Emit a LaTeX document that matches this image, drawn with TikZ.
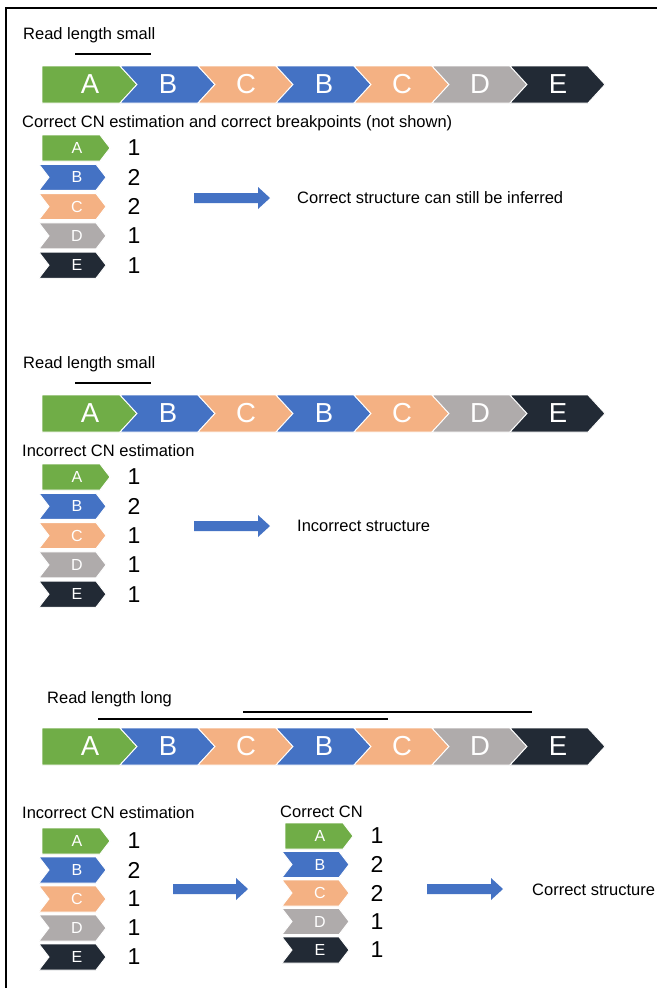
\documentclass[tikz,border=0pt]{standalone}
\usepackage{fontspec}
\setmainfont{Liberation Sans}

\definecolor{segA}{HTML}{70AD47}
\definecolor{segB}{HTML}{4472C4}
\definecolor{segC}{HTML}{F4B183}
\definecolor{segD}{HTML}{AFABAB}
\definecolor{segE}{HTML}{222A35}
\definecolor{flow}{HTML}{4472C4}

\tikzset{
  seg/.style={draw=white, line width=0.9pt, line join=miter},
  bigletter/.style={text=white, font=\fontsize{27.5}{30}\selectfont, inner sep=0pt},
  smallletter/.style={text=white, font=\fontsize{16}{18}\selectfont, inner sep=0pt},
  cnlabel/.style={font=\fontsize{23}{26}\selectfont, inner sep=0pt},
  caption/.style={font=\fontsize{16.5}{19}\selectfont, inner sep=0pt, anchor=base west},
  readline/.style={line width=1.5pt},
  frameline/.style={line width=2pt},
}

% A row of large segments A B C B C D E; #1 = name prefix, #2 = top edge
\newcommand\genomerow[2]{%
  \foreach \L [count=\i from 0] in {A,B,C,B,C,D,E} {
    \pgfmathsetmacro\xl{42+78*\i}
    \pgfmathsetmacro\nd{ifthenelse(\i==0,0,17)}
    \path[seg, fill=seg\L] (\xl,#2) -- ++(78,0) -- ++(17,18.5) -- ++(-17,18.5)
      -- ++(-78,0) -- ++(\nd,-18.5) -- cycle;
    \node[bigletter] (#1-\i) at (\xl+48,#2+18.5) {\L};
  }
}

% A column of small segments with copy numbers
% #1 = name prefix, #2 = left edge of A, #3 = centre of A, #4 = pitch, #5 = letter/count list
\newcommand\cncolumn[5]{%
  \foreach \L/\n [count=\i from 0] in {#5} {
    \pgfmathsetmacro\yc{#3+#4*\i}
    \ifnum\i=0 \def\xl{#2}\def\nd{0}\def\bw{58}%
    \else \pgfmathsetmacro\xl{#2-3}\def\nd{10}\def\bw{57}\fi
    \path[seg, fill=seg\L] (\xl,\yc-13) -- ++(\bw,0) -- ++(10,13) -- ++(-10,13)
      -- ++(-\bw,0) -- ++(\nd,-13) -- cycle;
    \node[smallletter] (#1-\L\i) at (#2+35,\yc) {\L};
    \node[cnlabel] (#1-n\i) at (#2+92,\yc) {\n};
  }
}

% Block arrow; #1 = start x, #2 = centre y, #3 = length
\newcommand\blockarrow[3]{%
  \fill[flow] (#1,#2-5) -- ++(#3-12,0) -- ++(0,-6) -- ++(12,11) -- ++(-12,11)
    -- ++(0,-6) -- ++(-#3+12,0) -- cycle;
}

\begin{document}
\begin{tikzpicture}[x=1pt,y=-1pt]
\useasboundingbox (0,0) rectangle (657,988);
\fill[white] (0,0) rectangle (657,988);
\draw[frameline] (6,988) -- (6,8) -- (657,8);

% Section 1: short reads, correct copy numbers
\node[caption] (s1title) at (23,39.5) {Read length small};
\draw[readline] (75,54) -- (151,54);
\genomerow{r1}{66}
\node[caption] (s1cn) at (22,127) {Correct CN estimation and correct breakpoints (not shown)};
\cncolumn{c1}{42}{148}{29.3}{A/1,B/2,C/2,D/1,E/1}
\blockarrow{194}{198}{76}
\node[caption] (s1res) at (297,203) {Correct structure can still be inferred};

% Section 2: short reads, wrong copy numbers
\node[caption] (s2title) at (23,368.5) {Read length small};
\draw[readline] (75,383) -- (151,383);
\genomerow{r2}{395}
\node[caption] (s2cn) at (22,456) {Incorrect CN estimation};
\cncolumn{c2}{42}{477}{29.3}{A/1,B/2,C/1,D/1,E/1}
\blockarrow{194}{526}{76}
\node[caption] (s2res) at (297,531) {Incorrect structure};

% Section 3: long reads correct the copy numbers
\node[caption] (s3title) at (47,703) {Read length long};
\draw[readline] (243,712) -- (532,712);
\draw[readline] (98,719) -- (388,719);
\genomerow{r3}{728}
\node[caption] (s3cn) at (22,818) {Incorrect CN estimation};
\cncolumn{c3}{42}{841}{29}{A/1,B/2,C/1,D/1,E/1}
\blockarrow{173}{889}{75}
\node[caption] (s3fix) at (280,817) {Correct CN};
\cncolumn{c4}{285}{836}{28.5}{A/1,B/2,C/2,D/1,E/1}
\blockarrow{427}{889}{76}
\node[caption] (s3res) at (532,895) {Correct structure};
\end{tikzpicture}
\end{document}
